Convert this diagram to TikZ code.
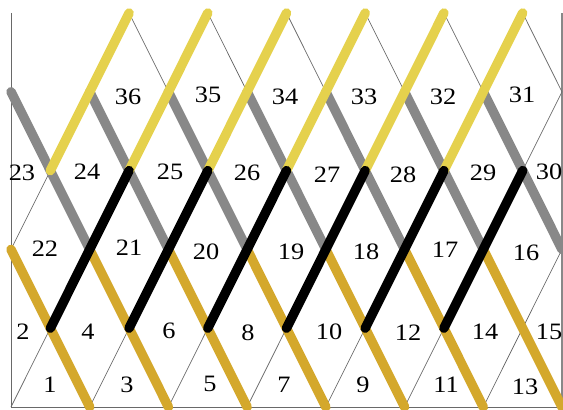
\documentclass[tikz,border=0pt]{standalone}
\usepackage{fontspec}
\newfontfamily\lblfont[FakeStretch=1.12]{Liberation Serif}
\definecolor{ylw}{RGB}{229,209,77}
\definecolor{gld}{RGB}{212,168,44}
\definecolor{gry}{RGB}{136,136,136}
\definecolor{thn}{RGB}{105,105,105}
\begin{document}
\begin{tikzpicture}[x=1pt,y=1pt,
  thinline/.style={draw=thn,line width=0.7pt},
  thick band/.style={line width=9.5pt,line cap=round},
  lbl/.style={font=\lblfont\fontsize{23.5}{24}\selectfont,inner sep=0pt,text=black}]
\useasboundingbox (0,0) rectangle (563,410);
% lattice vertices
\foreach \i in {0,...,14}{
  \foreach \j in {0,...,5}{
    \coordinate (v\i-\j) at ({11+39.357*\i},{3+78.8*\j});
  }
}
% frame
\draw[thinline] (v0-5) -- (v0-0) -- (v14-0);
\draw[draw=gry,line width=1.6pt] (v14-0) -- (v14-5);
% thin lattice lines
\foreach \k [evaluate=\k as \m using int(\k+1)] in {0,2,...,10}{
  \draw[thinline] (v\k-0) -- (v\m-1);
}
\draw[thinline] (v12-0) -- (v14-2);
\draw[thinline] (v0-2) -- (v1-3);
\draw[thinline] (v13-3) -- (v14-4);
\foreach \k [evaluate=\k as \m using int(\k+1)] in {3,5,...,13}{
  \draw[thinline] (v\k-5) -- (v\m-4);
}
% gold bands
\foreach \k [evaluate=\k as \m using int(\k+2)] in {0,2,...,12}{
  \draw[thick band,draw=gld] (v\k-2) -- (v\m-0);
}
% gray bands
\foreach \k [evaluate=\k as \m using int(\k+2)] in {0,2,...,12}{
  \draw[thick band,draw=gry] (v\k-4) -- (v\m-2);
}
% yellow bands
\foreach \k [evaluate=\k as \m using int(\k+2)] in {1,3,...,11}{
  \draw[thick band,draw=ylw] (v\k-3) -- (v\m-5);
}
% black bands
\foreach \k [evaluate=\k as \m using int(\k+2)] in {1,3,...,11}{
  \draw[thick band,draw=black] (v\k-1) -- (v\m-3);
}
% labels
\node[lbl] (n1) at (50,25) {1};
\node[lbl] (n3) at (127,25) {3};
\node[lbl] (n5) at (210,26) {5};
\node[lbl] (n7) at (284,25) {7};
\node[lbl] (n9) at (363,25) {9};
\node[lbl] (n11) at (446,25) {11};
\node[lbl] (n13) at (525,23) {13};
\node[lbl] (n2) at (23,78) {2};
\node[lbl] (n4) at (88,78) {4};
\node[lbl] (n6) at (169,79) {6};
\node[lbl] (n8) at (248,77) {8};
\node[lbl] (n10) at (329,78) {10};
\node[lbl] (n12) at (408,77) {12};
\node[lbl] (n14) at (485,78) {14};
\node[lbl] (n15) at (549,78) {15};
\node[lbl] (n22) at (45,161) {22};
\node[lbl] (n21) at (129,162) {21};
\node[lbl] (n20) at (206,158) {20};
\node[lbl] (n19) at (291,158) {19};
\node[lbl] (n18) at (366,158) {18};
\node[lbl] (n17) at (445,160) {17};
\node[lbl] (n16) at (526,157) {16};
\node[lbl] (n23) at (22,237) {23};
\node[lbl] (n24) at (87,238) {24};
\node[lbl] (n25) at (170,238) {25};
\node[lbl] (n26) at (247,237) {26};
\node[lbl] (n27) at (327,235) {27};
\node[lbl] (n28) at (403,235) {28};
\node[lbl] (n29) at (483,237) {29};
\node[lbl] (n30) at (549,238) {30};
\node[lbl] (n36) at (128,313) {36};
\node[lbl] (n35) at (208,315) {35};
\node[lbl] (n34) at (285,313) {34};
\node[lbl] (n33) at (364,313) {33};
\node[lbl] (n32) at (443,313) {32};
\node[lbl] (n31) at (522,315) {31};
\end{tikzpicture}
\end{document}
